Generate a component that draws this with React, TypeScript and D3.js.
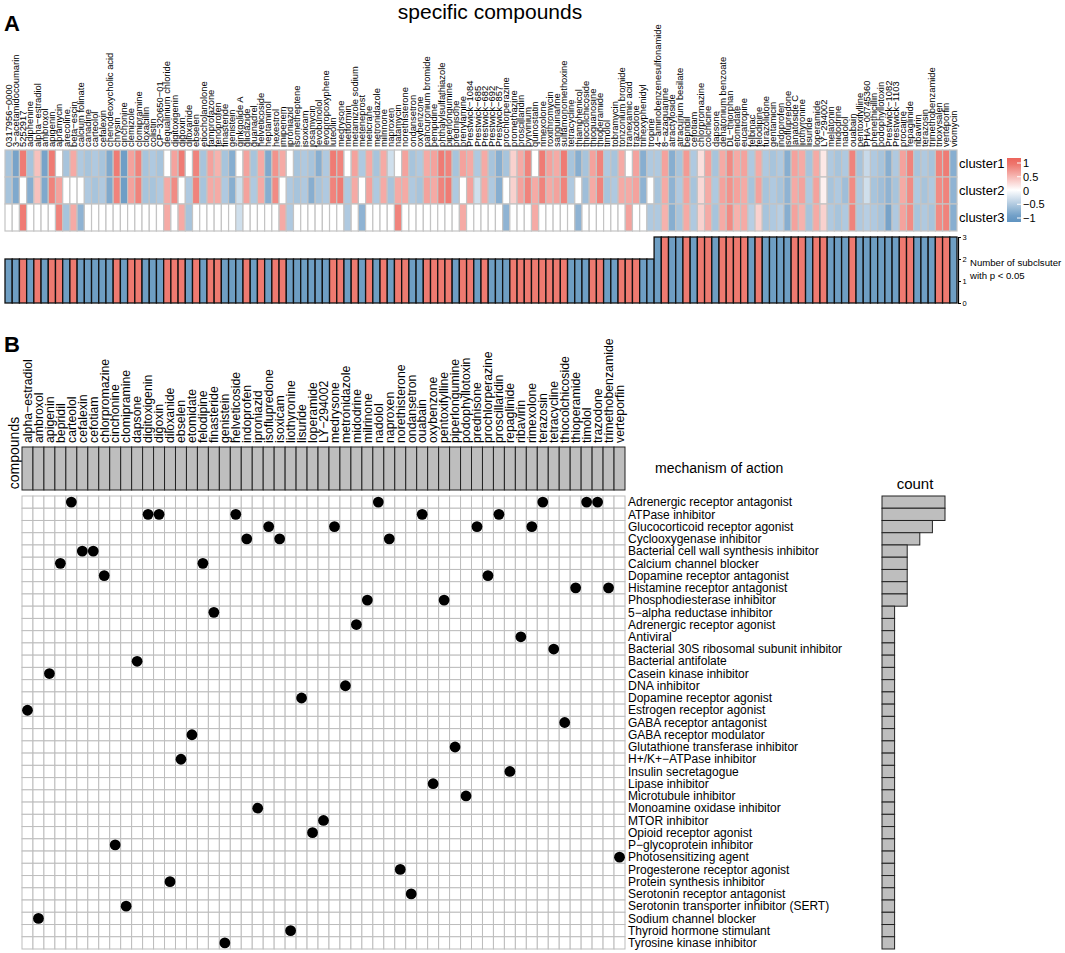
import React, { useEffect, useRef } from 'react';
import * as d3 from 'd3';

// ---------- panel A data ----------
const compoundsA = [
  "0317956−0000", "3−acetamidocoumarin", "5252917", "adiphenine", "alpha−estradiol", "ambroxol", "apigenin", "apramycin",
  "arecoline", "beta−escin", "calcium folinate", "canadine", "carteolol", "cefalexin", "chenodeoxycholic acid", "chrysin",
  "cinchonine", "clemizole", "clomipramine", "cloxacillin", "colistin", "CP−320650−01", "dequalinium chloride", "digitoxigenin",
  "digoxin", "diloxanide", "ebselen", "etiocholanolone", "famprofazone", "fenoprofen", "finasteride", "genistein",
  "ginkgolide A", "gliclazide", "guanadrel", "helveticoside", "heptaminol", "hexestrol", "imipenem", "iproniazid",
  "isometheptene", "isoxicam", "josamycin", "levobunolol", "levopropoxyphene", "luteolin", "medrysone", "metformin",
  "metamizole sodium", "meteneprost", "meticrane", "metronidazole", "milrinone", "naproxen", "natamycin", "norethisterone",
  "ondansetron", "oxybenzone", "pancuronium bromide", "pempidine", "phthalylsulfathiazole", "piperlongumine", "prednisone", "prenylamine",
  "Prestwick−1084", "Prestwick−685", "Prestwick−682", "Prestwick−692", "Prestwick−857", "prochlorperazine", "promethazine", "proscillaridin",
  "pyrvinium", "quinostatin", "rimexolone", "roxithromycin", "sanguinarine", "sulfamonomethoxine", "tetracycline", "thiamphenicol",
  "thiocolchicoside", "thioguanosine", "thioperamide", "timolol", "tobramycin", "tonzonium bromide", "tranexamic acid", "trazodone",
  "trihexyphenidyl", "tropine", "4−aminobenzenesulfonamide", "8−azaguanine", "atractyloside", "atracurium besilate", "bepridil", "cefotiam",
  "chlorpromazine", "colchicine", "dapsone", "denatonium benzoate", "DL−thiorphan", "etomidate", "eucatropine", "felbinac",
  "felodipine", "furazolidone", "gentamicin", "indoprofen", "isoflupredone", "lanatoside C", "liothyronine", "lisuride",
  "loperamide", "LY−294002", "melatonin", "midodrine", "nadolol", "ouabain", "pentoxifylline", "PHA−00745360",
  "phenethicillin", "podophyllotoxin", "Prestwick−1082", "Prestwick−1103", "procaine", "repaglinide", "ribavirin", "terazosin",
  "trimethobenzamide", "trioxysalen", "verteporfin", "viomycin",
];

const cluster1 = [
  -0.55, -0.85, 0.85, -0.55, 0.4, -0.85, 0.85, 0, -0.55, 0.55, -0.5, -0.55, -0.5, -0.55, -0.8, 0.85,
  -0.9, 0.6, 0.8, -0.55, -0.5, -0.55, 0, 0.6, 0.85, 0, 0.8, -0.55, 0.6, 0.5, -0.55, -0.75,
  0, 0.6, -0.55, 0.55, -0.8, 0.7, 0.55, 0, -0.55, -0.5, -0.55, -0.75, -0.5, 0.85, 0.8, 0,
  0.6, -0.5, 0.55, -0.55, 0.55, -0.3, 0, 0.6, -0.55, -0.5, 0.55, 0.6, 0.85, 0.8, -0.55, 0.6,
  0.55, -0.5, 0.55, -0.55, -0.75, -0.55, 0.3, 0.55, 0.8, 0, 0.85, 0.6, 0.55, 0.85, -0.55, -0.75,
  -0.55, 0.6, 0.8, -0.5, -0.55, 0.55, 0, 0.6, -0.75, -0.5, -0.5, 0.6, -0.75, -0.55, 0.65, -0.5,
  0.2, 0.6, -0.55, 0.55, 0.75, 0.55, 0.6, -0.5, 0.55, -0.5, -0.55, -0.5, -0.75, 0.6, 0.55, -0.55,
  0.55, 0.15, -0.5, -0.55, -0.5, 0.8, -0.55, -0.35, -0.5, -0.55, -0.75, -0.5, 0.6, 0.8, -0.55, -0.5,
  -0.55, 0.8, 0.85, -0.75,
];

const cluster2 = [
  -0.55, -0.8, 0, -0.75, 0.4, -0.8, 0.8, 0.6, 0, 0, 0, -0.5, -0.55, -0.5, -0.8, 0.8,
  -0.9, 0.6, 0.8, -0.55, -0.55, -0.5, 0.55, 0.75, 0, -0.5, 0.8, -0.55, 0.55, 0.55, -0.5, -0.75,
  -0.3, 0.6, -0.5, 0.55, -0.75, 0.75, 0, -0.5, -0.55, -0.5, -0.75, -0.55, -0.5, 0.8, 0.85, -0.5,
  0.55, 0, 0.6, -0.5, 0.55, -0.55, 0.55, 0.55, -0.5, -0.55, 0.6, 0.55, 0.8, 0.85, -0.5, 0,
  0.6, -0.3, 0.55, -0.5, -0.75, 0, 0.3, 0.6, 0.8, 0.55, 0.8, 0.55, 0.6, 0.8, -0.5, 0,
  -0.6, 0.55, 0.8, -0.55, -0.5, 0.55, 0.55, 0.6, -0.7, 0, -0.55, 0.55, -0.7, -0.5, 0.6, -0.55,
  0.25, 0.55, -0.5, 0.6, 0.7, 0.6, 0.55, -0.55, 0.6, -0.55, -0.5, -0.55, -0.7, 0.55, 0.6, -0.5,
  0.6, 0.1, -0.55, -0.5, -0.6, 0.75, -0.5, -0.3, -0.55, -0.6, -0.7, -0.55, 0.55, 0.75, -0.5, -0.55,
  -0.5, 0.75, 0.8, -0.7,
];

const cluster3 = [
  0, 0, 0.85, 0, 0, 0, 0, 0.8, -0.55, 0.55, -0.7, 0, 0, 0, 0, 0,
  0, 0, 0, 0, 0, 0, 0.55, 0, 0.55, -0.55, 0, 0, 0, 0, 0, 0,
  -0.3, 0, 0, 0, 0, 0, 0.55, -0.5, 0, 0, 0, 0, 0, 0, 0, -0.5,
  0, -0.7, 0, 0, 0, 0, 0.8, 0, 0, 0, 0, 0, 0, 0, 0, 0.55,
  0, 0, 0, 0, 0, -0.7, 0, 0, 0, 0.55, 0, 0, 0, 0, 0, -0.7,
  0, 0, 0, 0, 0, 0, 0.6, 0, 0, -0.5, -0.5, 0.5, -0.75, -0.55, 0.55, -0.5,
  0.3, 0.55, -0.55, 0.55, 0.75, 0.5, 0.55, -0.45, 0.3, -0.55, -0.5, -0.45, -0.75, 0.6, 0.5, -0.55,
  0.55, 0.3, -0.5, -0.55, -0.5, 0.8, -0.5, -0.45, -0.5, -0.55, -0.85, -0.5, 0.6, 0.75, -0.55, -0.5,
  -0.55, 0.75, 0.8, -0.75,
];

// number of subclusters with p < 0.05
const subclusterCount = [
  2, 2, 2, 2, 2, 2, 2, 2, 2, 2, 2, 2, 2, 2, 2, 2, 2, 2, 2, 2, 2, 2, 2, 2, 2, 2, 2, 2, 2, 2,
  2, 2, 2, 2, 2, 2, 2, 2, 2, 2, 2, 2, 2, 2, 2, 2, 2, 2, 2, 2, 2, 2, 2, 2, 2, 2, 2, 2, 2, 2,
  2, 2, 2, 2, 2, 2, 2, 2, 2, 2, 2, 2, 2, 2, 2, 2, 2, 2, 2, 2, 2, 2, 2, 2, 2, 2, 2, 2, 2, 2,
  3, 3, 3, 3, 3, 3, 3, 3, 3, 3, 3, 3, 3, 3, 3, 3, 3, 3, 3, 3, 3, 3, 3, 3, 3, 3, 3, 3, 3, 3,
  3, 3, 3, 3, 3, 3, 3, 3, 3, 3, 3, 3,
];

const clusterNames = ["cluster1", "cluster2", "cluster3"];
const legendTicks = [1, 0.5, 0, -0.5, -1];
const countTicksA = [0, 1, 2, 3];

// ---------- panel B data ----------
const compoundsB = [
  "alpha−estradiol", "ambroxol", "apigenin", "bepridil", "carteolol", "cefalexin", "cefotiam", "chlorpromazine",
  "cinchonine", "clomipramine", "dapsone", "digitoxigenin", "digoxin", "diloxanide", "ebselen", "etomidate",
  "felodipine", "finasteride", "genistein", "helveticoside", "indoprofen", "iproniazid", "isoflupredone", "isoxicam",
  "liothyronine", "lisuride", "loperamide", "LY−294002", "medrysone", "metronidazole", "midodrine", "milrinone",
  "nadolol", "naproxen", "norethisterone", "ondansetron", "ouabain", "oxybenzone", "pentoxifylline", "piperlongumine",
  "podophyllotoxin", "prednisone", "prochlorperazine", "proscillaridin", "repaglinide", "ribavirin", "rimexolone", "terazosin",
  "tetracycline", "thiocolchicoside", "thioperamide", "timolol", "trazodone", "trimethobenzamide", "verteporfin",
];

const mechanisms = [
  "Adrenergic receptor antagonist", "ATPase inhibitor", "Glucocorticoid receptor agonist", "Cyclooxygenase inhibitor",
  "Bacterial cell wall synthesis inhibitor", "Calcium channel blocker", "Dopamine receptor antagonist",
  "Histamine receptor antagonist", "Phosphodiesterase inhibitor", "5−alpha reductase inhibitor",
  "Adrenergic receptor agonist", "Antiviral", "Bacterial 30S ribosomal subunit inhibitor", "Bacterial antifolate",
  "Casein kinase inhibitor", "DNA inhibitor", "Dopamine receptor agonist", "Estrogen receptor agonist",
  "GABA receptor antagonist", "GABA receptor modulator", "Glutathione transferase inhibitor", "H+/K+−ATPase inhibitor",
  "Insulin secretagogue", "Lipase inhibitor", "Microtubule inhibitor", "Monoamine oxidase inhibitor", "MTOR inhibitor",
  "Opioid receptor agonist", "P−glycoprotein inhibitor", "Photosensitizing agent", "Progesterone receptor agonist",
  "Protein synthesis inhibitor", "Serotonin receptor antagonist", "Serotonin transporter inhibitor (SERT)",
  "Sodium channel blocker", "Thyroid hormone stimulant", "Tyrosine kinase inhibitor",
];

// mechanism of action of each compound in compoundsB
const compoundMechanism = [
  "Estrogen receptor agonist", "Sodium channel blocker", "Casein kinase inhibitor", "Calcium channel blocker",
  "Adrenergic receptor antagonist", "Bacterial cell wall synthesis inhibitor", "Bacterial cell wall synthesis inhibitor",
  "Dopamine receptor antagonist", "P−glycoprotein inhibitor", "Serotonin transporter inhibitor (SERT)",
  "Bacterial antifolate", "ATPase inhibitor", "ATPase inhibitor", "Protein synthesis inhibitor", "H+/K+−ATPase inhibitor",
  "GABA receptor modulator", "Calcium channel blocker", "5−alpha reductase inhibitor", "Tyrosine kinase inhibitor",
  "ATPase inhibitor", "Cyclooxygenase inhibitor", "Monoamine oxidase inhibitor", "Glucocorticoid receptor agonist",
  "Cyclooxygenase inhibitor", "Thyroid hormone stimulant", "Dopamine receptor agonist", "Opioid receptor agonist",
  "MTOR inhibitor", "Glucocorticoid receptor agonist", "DNA inhibitor", "Adrenergic receptor agonist",
  "Phosphodiesterase inhibitor", "Adrenergic receptor antagonist", "Cyclooxygenase inhibitor",
  "Progesterone receptor agonist", "Serotonin receptor antagonist", "ATPase inhibitor", "Lipase inhibitor",
  "Phosphodiesterase inhibitor", "Glutathione transferase inhibitor", "Microtubule inhibitor",
  "Glucocorticoid receptor agonist", "Dopamine receptor antagonist", "ATPase inhibitor", "Insulin secretagogue",
  "Antiviral", "Glucocorticoid receptor agonist", "Adrenergic receptor antagonist",
  "Bacterial 30S ribosomal subunit inhibitor", "GABA receptor antagonist", "Histamine receptor antagonist",
  "Adrenergic receptor antagonist", "Adrenergic receptor antagonist", "Histamine receptor antagonist",
  "Photosensitizing agent",
];

const FONT = "'Liberation Sans', Arial, Helvetica, sans-serif";

const App: React.FC = () => {
  const ref = useRef<SVGSVGElement>(null);

  useEffect(() => {
    document.body.style.margin = "0";
    const svg = d3.select(ref.current);
    svg.selectAll("*").remove();
    svg.attr("font-family", FONT);

    // ================= Panel A =================
    svg.append("text").attr("x", 4).attr("y", 31).attr("font-size", 22).attr("font-weight", "bold").text("A");
    svg.append("text").attr("x", 490).attr("y", 19).attr("text-anchor", "middle").attr("font-size", 21)
      .text("specific compounds");

    const xA = d3.scaleBand().domain(compoundsA).range([5, 957]);
    const yA = d3.scaleBand().domain(clusterNames).range([150, 231]);
    const color = d3.scaleLinear<string>().domain([-1, 0, 1]).range(["#5F93C0", "#FFFFFF", "#EC645B"]);

    const rowsA = [cluster1, cluster2, cluster3];
    const cells = rowsA.flatMap((row, ri) => row.map((v, ci) => ({ r: clusterNames[ri], c: compoundsA[ci], v })));

    svg.append("g").selectAll("rect").data(cells).enter().append("rect")
      .attr("x", d => xA(d.c)!)
      .attr("y", d => yA(d.r)!)
      .attr("width", xA.bandwidth())
      .attr("height", yA.bandwidth())
      .attr("fill", d => color(d.v))
      .attr("stroke", "#C4C4C4")
      .attr("stroke-width", 1.2);

    svg.append("g").selectAll("text").data(compoundsA).enter().append("text")
      .attr("transform", d => `translate(${xA(d)! + xA.bandwidth() / 2 + 3.2},147) rotate(-90)`)
      .attr("font-size", 9.4)
      .text(d => d);

    svg.append("g").selectAll("text").data(clusterNames).enter().append("text")
      .attr("x", 959).attr("y", d => yA(d)! + yA.bandwidth() / 2 + 4.5)
      .attr("font-size", 13)
      .text(d => d);

    // colour legend
    const defs = svg.append("defs");
    const grad = defs.append("linearGradient").attr("id", "hmgrad").attr("x1", 0).attr("x2", 0).attr("y1", 0).attr("y2", 1);
    d3.range(0, 11).forEach(i => {
      const v = 1.1 - i * 0.22;
      grad.append("stop").attr("offset", `${i * 10}%`).attr("stop-color", color(Math.max(-1, Math.min(1, v))));
    });
    svg.append("rect").attr("x", 1007).attr("y", 158).attr("width", 14).attr("height", 64).attr("fill", "url(#hmgrad)");
    const legY = d3.scaleLinear().domain([-1, 1]).range([218, 163]);
    const leg = svg.append("g").selectAll("g").data(legendTicks).enter().append("g");
    leg.append("line").attr("x1", 1017).attr("x2", 1021).attr("y1", d => legY(d)).attr("y2", d => legY(d))
      .attr("stroke", "#ffffff").attr("stroke-width", 1);
    leg.append("text").attr("x", 1023).attr("y", d => legY(d) + 4).attr("font-size", 11)
      .text(d => d3.format("")(d).replace("-", "−"));

    // subcluster bars
    const yBar = d3.scaleLinear().domain([0, 3]).range([303, 237]);
    const signs = compoundsA.map((_, i) => cluster1[i] + cluster2[i] + cluster3[i]);
    svg.append("g").selectAll("rect").data(subclusterCount).enter().append("rect")
      .attr("x", (_, i) => xA(compoundsA[i])!)
      .attr("y", d => yBar(d))
      .attr("width", xA.bandwidth())
      .attr("height", d => yBar(0) - yBar(d))
      .attr("fill", (_, i) => signs[i] >= 0 ? "#EE7A70" : "#6E9EC3")
      .attr("stroke", "#111")
      .attr("stroke-width", 1.3);

    const axisA = svg.append("g").attr("transform", "translate(958,0)")
      .call(d3.axisRight(yBar).tickValues(countTicksA).tickFormat(d3.format("d")).tickSize(3).tickPadding(1.5));
    axisA.selectAll("text").attr("font-size", 7.5).attr("font-family", FONT);
    axisA.select(".domain").attr("stroke-width", 1.2);

    svg.append("text").attr("x", 970).attr("y", 266).attr("font-size", 9.6).text("Number of subclsuter");
    svg.append("text").attr("x", 970).attr("y", 279).attr("font-size", 9.6).text("with p < 0.05");

    // ================= Panel B =================
    svg.append("text").attr("x", 4).attr("y", 352).attr("font-size", 22).attr("font-weight", "bold").text("B");

    const xB = d3.scaleBand().domain(compoundsB).range([22, 625]);
    const yB = d3.scaleBand().domain(mechanisms).range([496, 949]);

    svg.append("g").selectAll("text").data(compoundsB).enter().append("text")
      .attr("transform", d => `translate(${xB(d)! + xB.bandwidth() / 2 + 4.3},443) rotate(-90)`)
      .attr("font-size", 12.3)
      .text(d => d);

    svg.append("text")
      .attr("transform", "translate(19,453) rotate(-90)")
      .attr("text-anchor", "middle").attr("font-size", 14).text("compounds");

    svg.append("g").selectAll("rect").data(compoundsB).enter().append("rect")
      .attr("x", d => xB(d)!).attr("y", 447)
      .attr("width", xB.bandwidth()).attr("height", 43)
      .attr("fill", "#BEBEBE").attr("stroke", "#222").attr("stroke-width", 1);

    svg.append("text").attr("x", 655).attr("y", 473).attr("font-size", 14).text("mechanism of action");

    const grid = mechanisms.flatMap(m => compoundsB.map(c => ({ m, c })));
    svg.append("g").selectAll("rect").data(grid).enter().append("rect")
      .attr("x", d => xB(d.c)!).attr("y", d => yB(d.m)!)
      .attr("width", xB.bandwidth()).attr("height", yB.bandwidth())
      .attr("fill", "#ffffff").attr("stroke", "#BDBDBD").attr("stroke-width", 1);

    svg.append("g").selectAll("circle").data(compoundsB).enter().append("circle")
      .attr("cx", d => xB(d)! + xB.bandwidth() / 2)
      .attr("cy", (_, i) => yB(compoundMechanism[i])! + yB.bandwidth() / 2)
      .attr("r", 5.4)
      .attr("fill", "#000");

    svg.append("g").selectAll("text").data(mechanisms).enter().append("text")
      .attr("x", 628)
      .attr("y", d => yB(d)! + yB.bandwidth() / 2 + 4.2)
      .attr("font-size", d => (d === "Antiviral" || d === "DNA inhibitor") ? 12.3 : 12)
      .text(d => d);

    // count bars
    const counts = mechanisms.map(m => compoundMechanism.filter(x => x === m).length);
    const xCount = d3.scaleLinear().domain([0, 5]).range([882, 945]);
    svg.append("g").selectAll("rect").data(counts).enter().append("rect")
      .attr("x", xCount(0))
      .attr("y", (_, i) => yB(mechanisms[i])!)
      .attr("width", d => xCount(d) - xCount(0))
      .attr("height", yB.bandwidth())
      .attr("fill", "#BEBEBE").attr("stroke", "#222").attr("stroke-width", 1);

    svg.append("text").attr("x", 915).attr("y", 489).attr("text-anchor", "middle").attr("font-size", 15).text("count");
  }, []);

  return <svg ref={ref} width={1065} height={953} style={{ display: 'block', background: '#fff' }}></svg>;
};

export default App;
